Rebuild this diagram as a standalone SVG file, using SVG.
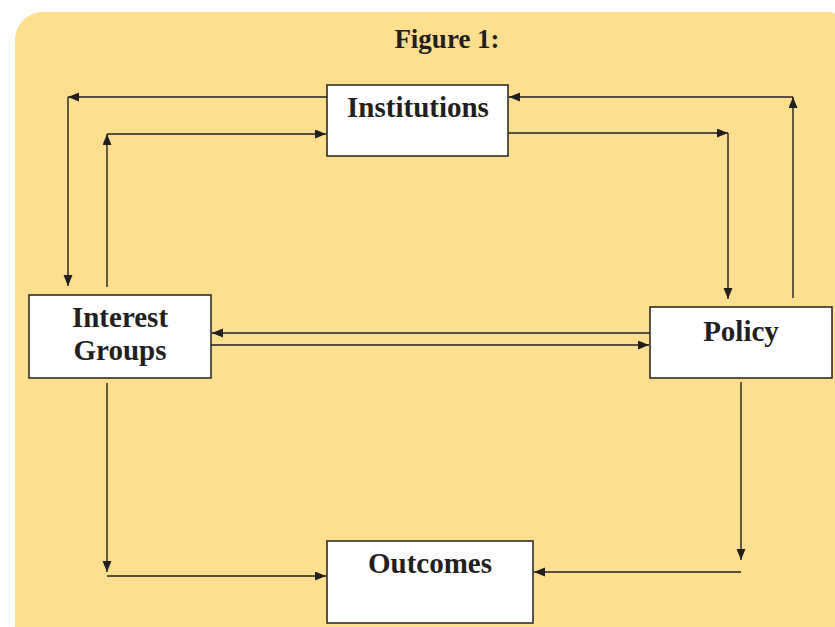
<svg xmlns="http://www.w3.org/2000/svg" width="835" height="627" viewBox="0 0 835 627">
<style>
.bg{fill:#FDDF8F;}
.box{fill:#FFFFFF;stroke:#231F20;stroke-width:1.5;}
.lbl{font-family:"Liberation Serif","Times New Roman",serif;font-weight:bold;font-size:29px;fill:#231F20;text-anchor:middle;}
.title{font-family:"Liberation Serif","Times New Roman",serif;font-weight:bold;font-size:27px;fill:#231F20;text-anchor:middle;}
.c{fill:none;stroke:#231F20;stroke-width:1.4;}
.a{marker-end:url(#ah);}
</style>
<defs>
<marker id="ah" markerUnits="userSpaceOnUse" markerWidth="12" markerHeight="10" refX="11" refY="4.5" orient="auto">
<path d="M0,0 L11,4.5 L0,9 z" fill="#231F20"/>
</marker>
</defs>
<rect class="bg" x="15" y="12" width="840" height="640" rx="28" ry="28"/>
<text class="title" x="447" y="48">Figure 1:</text>
<g id="connectors">
<line class="c a" x1="327" y1="97" x2="68" y2="97"/>
<line class="c a" x1="68" y1="97" x2="68" y2="286"/>
<line class="c a" x1="107" y1="287" x2="107" y2="134"/>
<line class="c a" x1="107" y1="134" x2="326" y2="134"/>
<line class="c a" x1="508" y1="133" x2="728" y2="133"/>
<line class="c a" x1="728" y1="133" x2="728" y2="299"/>
<line class="c a" x1="793" y1="298" x2="793" y2="97"/>
<line class="c a" x1="793" y1="97" x2="509" y2="97"/>
<line class="c a" x1="650" y1="333" x2="212" y2="333"/>
<line class="c a" x1="211" y1="345" x2="649" y2="345"/>
<line class="c a" x1="107" y1="383" x2="107" y2="572"/>
<line class="c a" x1="107" y1="576" x2="326" y2="576"/>
<line class="c a" x1="741" y1="382" x2="741" y2="560"/>
<line class="c a" x1="741" y1="572" x2="534" y2="572"/>
</g>
<g id="institutions">
<rect class="box" x="327" y="85" width="181" height="71"/>
<text class="lbl" x="418" y="117">Institutions</text>
</g>
<g id="interest-groups">
<rect class="box" x="29" y="295" width="182" height="83"/>
<text class="lbl" x="120" y="327">Interest</text>
<text class="lbl" x="120" y="360">Groups</text>
</g>
<g id="policy">
<rect class="box" x="650" y="307" width="182" height="71"/>
<text class="lbl" x="741" y="341">Policy</text>
</g>
<g id="outcomes">
<rect class="box" x="327" y="541" width="206" height="82"/>
<text class="lbl" x="430" y="573">Outcomes</text>
</g>
</svg>
